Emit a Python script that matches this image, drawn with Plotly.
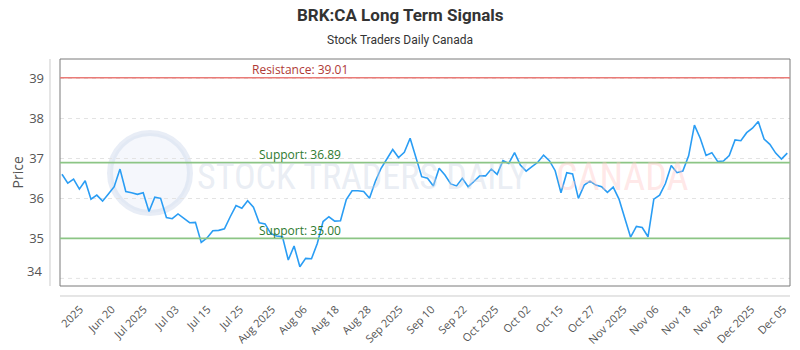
import plotly.graph_objects as go

# ---- data ----
prices = [
    36.60, 36.38, 36.48, 36.23, 36.44, 35.98, 36.08, 35.93, 36.11, 36.29,
    36.73, 36.17, 36.14, 36.10, 36.14, 35.67, 36.03, 36.00, 35.52, 35.49,
    35.61, 35.50, 35.39, 35.40, 34.90, 35.01, 35.19, 35.20, 35.24, 35.54,
    35.82, 35.75, 35.94, 35.78, 35.39, 35.36, 35.12, 35.06, 35.04, 34.46,
    34.81, 34.29, 34.50, 34.49, 34.87, 35.42, 35.54, 35.43, 35.44, 35.97,
    36.19, 36.19, 36.17, 36.00, 36.42, 36.75, 37.00, 37.22, 37.02, 37.15,
    37.50, 37.03, 36.54, 36.50, 36.31, 36.75, 36.58, 36.36, 36.31, 36.50,
    36.29, 36.42, 36.56, 36.56, 36.73, 36.60, 36.94, 36.87, 37.14, 36.83,
    36.68, 36.79, 36.90, 37.08, 36.94, 36.69, 36.14, 36.64, 36.61, 36.00,
    36.33, 36.43, 36.33, 36.29, 36.15, 36.28, 35.98, 35.50, 35.03, 35.30,
    35.27, 35.04, 35.98, 36.08, 36.37, 36.82, 36.64, 36.68, 37.06, 37.83,
    37.50, 37.07, 37.14, 36.92, 36.93, 37.07, 37.46, 37.44, 37.64, 37.75,
    37.92, 37.48, 37.35, 37.13, 36.98, 37.13,
]
day_index = list(range(len(prices)))

tick_labels = ["2025", "Jun 20", "Jul 2025", "Jul 03", "Jul 15", "Jul 25",
               "Aug 2025", "Aug 06", "Aug 18", "Aug 28", "Sep 2025", "Sep 10",
               "Sep 22", "Oct 2025", "Oct 02", "Oct 15", "Oct 27", "Nov 2025",
               "Nov 06", "Nov 18", "Nov 28", "Dec 2025", "Dec 05"]
tick_positions = [3.1, 8.6, 14.1, 19.6, 25.1, 30.7, 36.2, 41.7, 47.2, 52.7,
                  58.2, 63.7, 69.2, 74.7, 80.2, 85.8, 91.3, 96.8, 102.3,
                  107.8, 113.3, 118.8, 124.3]

levels = [39.01, 36.89, 35.00]
level_names = ["Resistance", "Support", "Support"]
y_ticks = [34, 35, 36, 37, 38, 39]

title = "BRK:CA Long Term Signals"
subtitle = "Stock Traders Daily Canada"

# ---- figure ----
FONT = "Open Sans, Roboto, sans-serif"
fig = go.Figure()
fig.add_trace(go.Scatter(x=day_index, y=prices, mode="lines",
                         line=dict(color="#2a9df4", width=1.6),
                         hoverinfo="y", showlegend=False))

shapes = []
annotations = []

# plot border box
shapes.append(dict(type="rect", xref="paper", yref="paper", x0=0, x1=1, y0=0, y1=1,
                   line=dict(color="#7a7a7a", width=1), layer="above"))
# detached axis lines
shapes.append(dict(type="line", xref="paper", yref="paper", x0=0, x1=1,
                   y0=-0.044, y1=-0.044, line=dict(color="#cccccc", width=1)))
shapes.append(dict(type="line", xref="paper", yref="paper", x0=-0.0137, x1=-0.0137,
                   y0=0, y1=1, line=dict(color="#cccccc", width=1)))

level_line_colors = ["#ea7b77", "#8cc585", "#8cc585"]
level_text_colors = ["#b03a36", "#2e7a30", "#2e7a30"]
for val, name, lc, tc in zip(levels, level_names, level_line_colors, level_text_colors):
    shapes.append(dict(type="line", xref="paper", yref="y", x0=0, x1=1, y0=val, y1=val,
                       line=dict(color=lc, width=1.8 if name == "Support" else 1.4),
                       layer="above"))
    annotations.append(dict(xref="paper", yref="y", x=(300 - 60) / 730, y=val, yshift=8,
                            xanchor="center", yanchor="middle",
                            text=f"{name}: {val:.2f}", showarrow=False,
                            font=dict(family=FONT, size=12, color=tc)))

# watermark
WM_FONT = "Liberation Sans Narrow, Roboto Condensed, Roboto"
shapes.append(dict(type="circle", xref="paper", yref="paper",
                   x0=(110 - 60) / 730, x1=(190 - 60) / 730,
                   y0=(286 - 213) / 227, y1=(286 - 133) / 227,
                   line=dict(color="rgba(205,215,235,0.45)", width=6),
                   fillcolor="rgba(225,232,245,0.35)", layer="below"))
annotations.append(dict(xref="paper", yref="paper", x=(362 - 60) / 730, y=(286 - 177) / 227,
                        xanchor="center", yanchor="middle",
                        text="STOCK TRADERS DAILY", showarrow=False,
                        font=dict(family=WM_FONT, size=36, color="rgba(200,210,228,0.4)")))
annotations.append(dict(xref="paper", yref="paper", x=(622 - 60) / 730, y=(286 - 177) / 227,
                        xanchor="center", yanchor="middle",
                        text="CANADA", showarrow=False,
                        font=dict(family=WM_FONT, size=38, color="rgba(255,195,195,0.4)")))

# titles
annotations.append(dict(xref="paper", yref="paper", x=(400 - 60) / 730, y=1, yshift=44,
                        xanchor="center", yanchor="middle",
                        text=f"<b>{title}</b>", showarrow=False,
                        font=dict(family="Roboto, sans-serif", size=17, color="#333333")))
annotations.append(dict(xref="paper", yref="paper", x=(400 - 60) / 730, y=1, yshift=19,
                        xanchor="center", yanchor="middle",
                        text=subtitle, showarrow=False,
                        font=dict(family="Roboto, sans-serif", size=12, color="#333333")))
annotations.append(dict(xref="paper", yref="paper", x=(17 - 60) / 730, y=0.5,
                        xanchor="center", yanchor="middle",
                        text="Price", textangle=-90, showarrow=False,
                        font=dict(family=FONT, size=14, color="#555555")))
# lowest y label sits above its grid line in the reference
annotations.append(dict(xref="paper", yref="y", x=(44 - 60) / 730, y=y_ticks[0], yshift=7,
                        xanchor="right", yanchor="middle", text=str(y_ticks[0]), showarrow=False,
                        font=dict(family=FONT, size=13, color="#555555")))

fig.update_layout(
    width=800, height=350,
    margin=dict(l=60, r=10, t=59, b=64),
    paper_bgcolor="white", plot_bgcolor="white",
    font=dict(family=FONT),
    shapes=shapes, annotations=annotations,
    xaxis=dict(range=[-0.34, 125.47], tickmode="array", tickvals=tick_positions,
               ticktext=tick_labels, tickangle=-45, showgrid=False, zeroline=False,
               showline=False, ticks="", ticklabelstandoff=14, automargin=False,
               tickfont=dict(family=FONT, size=11, color="#555555")),
    yaxis=dict(range=[33.81, 39.48], tickmode="array", tickvals=y_ticks[1:],
               ticktext=[str(v) for v in y_ticks[1:]], showgrid=True,
               gridcolor="#e3e3e3", griddash="4px,4px", gridwidth=1, automargin=False,
               zeroline=False, showline=False, ticks="", ticklabelstandoff=15,
               tickfont=dict(family=FONT, size=13, color="#555555")),
)
# extra dashed grid line at the lowest tick (label placed by annotation)
fig.add_hline(y=y_ticks[0], line=dict(color="#e3e3e3", width=1, dash="4px,4px"), layer="below")

fig.write_html("out.html")
